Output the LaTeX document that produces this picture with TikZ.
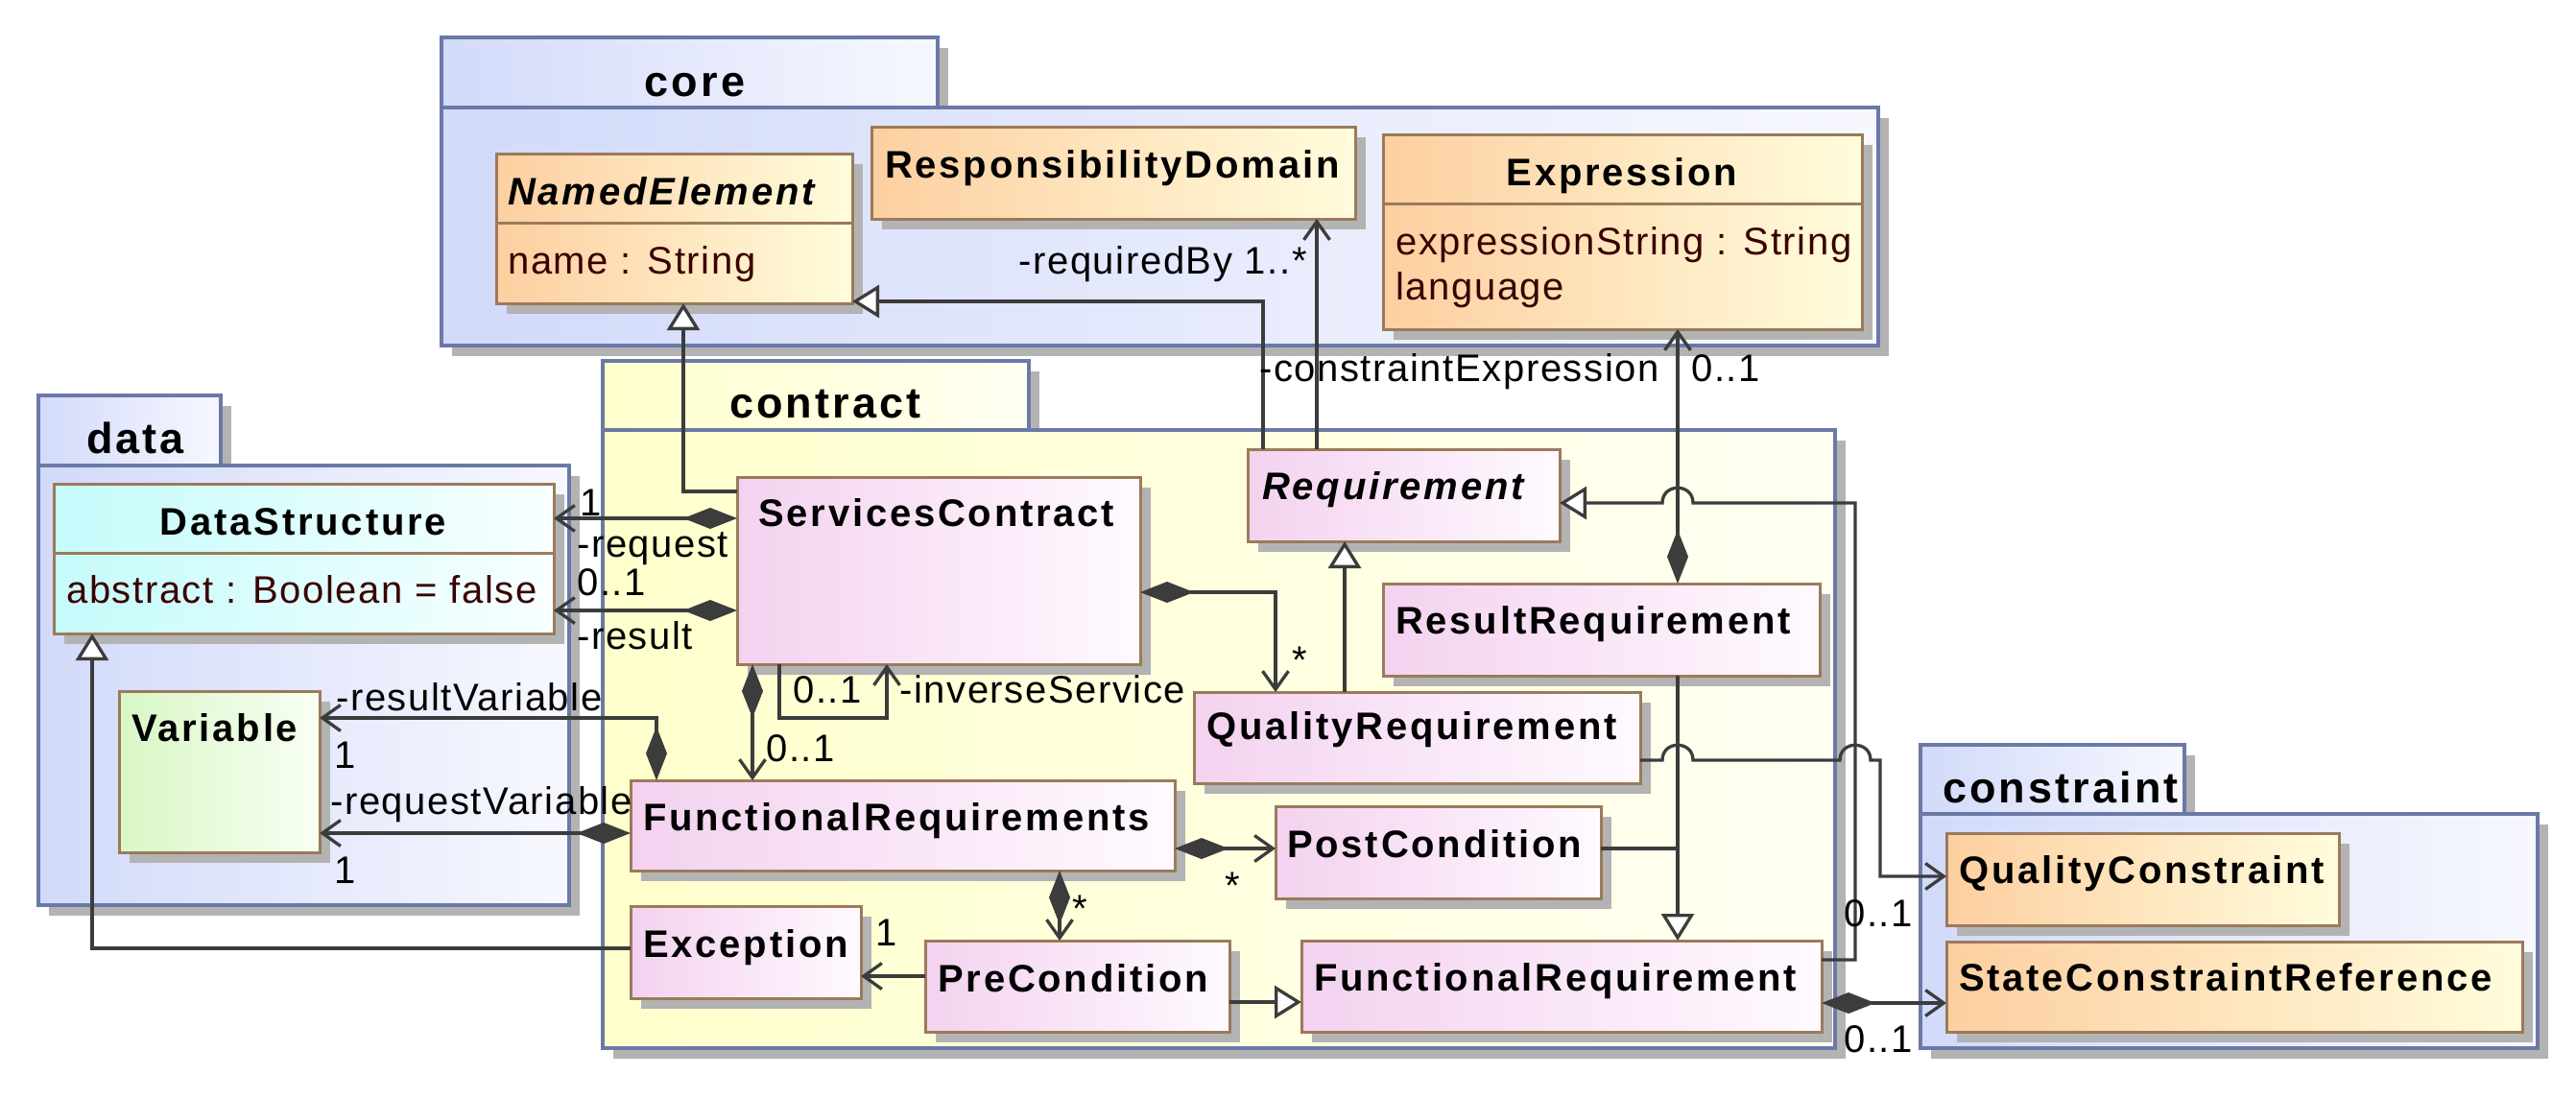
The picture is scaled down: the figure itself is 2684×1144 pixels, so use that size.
\documentclass[tikz,border=0pt]{standalone}
\usepackage{fontspec}
\setmainfont{Liberation Sans}
\newfontfamily\rf{Liberation Sans}[LetterSpace=4]
\newfontfamily\bfam{Liberation Sans}[LetterSpace=7]
\usetikzlibrary{arrows.meta,shadows}
\definecolor{pkgb}{HTML}{6B79A7}
\definecolor{clsb}{HTML}{9B7A5B}
\definecolor{lc}{HTML}{3C3C3C}
\definecolor{shd}{HTML}{B3B3B3}
\definecolor{blueL}{HTML}{D2DAFA}
\definecolor{blueR}{HTML}{F7F8FE}
\definecolor{yelL}{HTML}{FFFFCC}
\definecolor{yelR}{HTML}{FFFFF2}
\definecolor{orL}{HTML}{FDCFA0}
\definecolor{orR}{HTML}{FFFCDC}
\definecolor{piL}{HTML}{F3D2EF}
\definecolor{piR}{HTML}{FFFAFF}
\definecolor{cyL}{HTML}{C5FBFB}
\definecolor{cyR}{HTML}{F8FFFF}
\definecolor{grL}{HTML}{D9F7C6}
\definecolor{grR}{HTML}{F8FFF4}
\definecolor{attrc}{HTML}{3A0000}
\begin{document}
\begin{tikzpicture}[x=1pt,y=-1pt,
  box/.style={inner sep=0pt, outer sep=0pt, anchor=north west,
    general shadow={fill=shd, shadow xshift=11pt, shadow yshift=-11pt}},
  pkgblue/.style={box, draw=pkgb, line width=3.5pt, left color=blueL, right color=blueR},
  pkgyel/.style={box, draw=pkgb, line width=3.5pt, left color=yelL, right color=yelR},
  cls/.style={box, draw=clsb, line width=3pt},
  orcls/.style={cls, left color=orL, right color=orR},
  picls/.style={cls, left color=piL, right color=piR},
  cycls/.style={cls, left color=cyL, right color=cyR},
  grcls/.style={cls, left color=grL, right color=grR},
  sep/.style={draw=clsb, line width=3pt},
  cname/.style={inner sep=0pt, anchor=base west, font={\bfam\bfseries\fontsize{40}{48}\selectfont}},
  aname/.style={cname, font={\bfam\bfseries\itshape\fontsize{40}{48}\selectfont}},
  attr/.style={inner sep=0pt, anchor=base west, text=attrc, font={\rf\fontsize{40}{48}\selectfont}},
  lbl/.style={inner sep=0pt, anchor=base west, font={\rf\fontsize{40}{48}\selectfont}},
  pname/.style={inner sep=0pt, anchor=base, font={\bfam\bfseries\fontsize{45}{54}\selectfont}},
  conn/.style={draw=lc, line width=3.3pt},
  gen/.style={conn, -{Triangle[length=28pt,width=34pt,fill=white]}},
  nav/.style={conn, -{Straight Barb[length=19pt,width=27pt]}},
  comp/.style={conn, {Diamond[length=56pt,width=22pt]}-{Straight Barb[length=19pt,width=27pt]}}
]
\useasboundingbox (0,0) rectangle (2684,1144);

% ---------- packages ----------
\node[pkgblue, minimum width=517pt, minimum height=73pt] (coretab) at (460,39) {};
\node[pkgblue, minimum width=1497pt, minimum height=248pt] (corebody) at (460,112) {};
\node[pname] (corename) at (724,100) {core};

\node[pkgblue, minimum width=190pt, minimum height=73pt] (datatab) at (40,412) {};
\node[pkgblue, minimum width=553pt, minimum height=458pt] (databody) at (40,485) {};
\node[pname] (dataname) at (141,472) {data};

\node[pkgyel, minimum width=444pt, minimum height=72pt] (contab) at (628,376) {};
\node[pkgyel, minimum width=1284pt, minimum height=644pt] (conbody) at (628,448) {};
\node[pname] (conname) at (860,435) {contract};

\node[pkgblue, minimum width=275pt, minimum height=72pt] (cstab) at (2001,776) {};
\node[pkgblue, minimum width=643pt, minimum height=244pt] (csbody) at (2001,848) {};
\node[pname] (csname) at (2147,836) {constraint};

% ---------- classes ----------
\node[orcls, minimum width=371pt, minimum height=156pt] (ne) at (517,160) {};
\draw[sep] (517,232) -- (888,232);
\node[aname] (nename) at (529,213) {NamedElement};
\node[attr] (neattr) at (529,285) {name : String};

\node[orcls, minimum width=504pt, minimum height=96pt] (rd) at (908,132) {};
\node[cname] (rdname) at (922,185) {ResponsibilityDomain};

\node[orcls, minimum width=499pt, minimum height=203pt] (expr) at (1441,140) {};
\draw[sep] (1441,212) -- (1940,212);
\node[cname, anchor=base] (exname) at (1690,193) {Expression};
\node[attr] (exattr1) at (1454,265) {expressionString : String};
\node[attr] (exattr2) at (1454,312) {language};

\node[cycls, minimum width=521pt, minimum height=156pt] (ds) at (56,504) {};
\draw[sep] (56,576) -- (577,576);
\node[cname, anchor=base] (dsname) at (316,557) {DataStructure};
\node[attr] (dsattr) at (69,628) {abstract : Boolean = false};

\node[grcls, minimum width=209pt, minimum height=168pt] (var) at (124,720) {};
\node[cname] (varname) at (137,772) {Variable};

\node[picls, minimum width=420pt, minimum height=195pt] (sc) at (768,497) {};
\node[cname] (scname) at (790,548) {ServicesContract};

\node[picls, minimum width=325pt, minimum height=96pt] (req) at (1300,468) {};
\node[aname] (reqname) at (1315,520) {Requirement};

\node[picls, minimum width=455pt, minimum height=96pt] (rr) at (1441,608) {};
\node[cname] (rrname) at (1454,660) {ResultRequirement};

\node[picls, minimum width=465pt, minimum height=95pt] (qr) at (1244,721) {};
\node[cname] (qrname) at (1257,770) {QualityRequirement};

\node[picls, minimum width=567pt, minimum height=94pt] (fr) at (657,813) {};
\node[cname] (frname) at (670,865) {FunctionalRequirements};

\node[picls, minimum width=339pt, minimum height=96pt] (post) at (1329,840) {};
\node[cname] (postname) at (1341,893) {PostCondition};

\node[picls, minimum width=240pt, minimum height=96pt] (exc) at (657,944) {};
\node[cname] (excname) at (670,997) {Exception};

\node[picls, minimum width=317pt, minimum height=95pt] (pre) at (964,980) {};
\node[cname] (prename) at (977,1033) {PreCondition};

\node[picls, minimum width=542pt, minimum height=95pt] (fureq) at (1356,980) {};
\node[cname] (fureqname) at (1369,1032) {FunctionalRequirement};

\node[orcls, minimum width=409pt, minimum height=96pt] (qc) at (2028,868) {};
\node[cname] (qcname) at (2041,920) {QualityConstraint};

\node[orcls, minimum width=600pt, minimum height=94pt] (scr) at (2028,981) {};
\node[cname] (scrname) at (2041,1032) {StateConstraintReference};

% ---------- connectors ----------
\draw[gen] (sc.west |- 0,512) -- (712,512) -- (712,0 |- ne.south);
\draw[gen] (1316,0 |- req.north) -- (1316,314) -- (ne.east |- 0,314);
\draw[nav] (1372,0 |- req.north) -- (1372,0 |- rd.south);
\draw[comp] (1748,0 |- rr.north) -- (1748,0 |- expr.south);
\draw[comp] (sc.west |- 0,540) -- (ds.east |- 0,540);
\draw[comp] (sc.west |- 0,636) -- (ds.east |- 0,636);
\draw[comp] (sc.east |- 0,617) -- (1329,617) -- (1329,0 |- qr.north);
\draw[comp] (784,0 |- sc.south) -- (784,0 |- fr.north);
\draw[nav] (812,0 |- sc.south) -- (812,748) -- (924,748) -- (924,0 |- sc.south);
\draw[comp] (684,0 |- fr.north) -- (684,748) -- (var.east |- 0,748);
\draw[comp] (fr.west |- 0,868) -- (var.east |- 0,868);
\draw[gen] (1401,0 |- qr.north) -- (1401,0 |- req.south);
\draw[gen] (1748,0 |- rr.south) -- (1748,0 |- fureq.north);
\draw[conn] (post.east |- 0,884) -- (1748,884);
\draw[comp] (fr.east |- 0,884) -- (post.west |- 0,884);
\draw[comp] (1104,0 |- fr.south) -- (1104,0 |- pre.north);
\draw[nav] (pre.west |- 0,1017) -- (exc.east |- 0,1017);
\draw[gen] (pre.east |- 0,1044) -- (fureq.west |- 0,1044);
\draw[gen] (exc.west |- 0,988) -- (96,988) -- (96,0 |- ds.south);
\draw[comp] (fureq.east |- 0,1045) -- (scr.west |- 0,1045);
\draw[gen] (fureq.east |- 0,1000) -- (1933,1000) -- (1933,524) -- (1764,524)
  .. controls (1764,503) and (1732,503) .. (1732,524) -- (req.east |- 0,524);
\draw[nav] (qr.east |- 0,792) -- (1732,792)
  .. controls (1732,771) and (1764,771) .. (1764,792) -- (1917,792)
  .. controls (1917,771) and (1949,771) .. (1949,792) -- (1959,792) -- (1959,913) -- (qc.west |- 0,913);

% ---------- labels ----------
\node[lbl, anchor=base east] (l1) at (1362,285) {-requiredBy 1..*};
\node[lbl, anchor=base east] (l2) at (1729,397) {-constraintExpression};
\node[lbl] (l3) at (1762,397) {0..1};
\node[lbl] (l4) at (604,537) {1};
\node[lbl] (l5) at (601,580) {-request};
\node[lbl] (l6) at (601,620) {0..1};
\node[lbl] (l7) at (601,676) {-result};
\node[lbl] (l8) at (826,732) {0..1};
\node[lbl] (l9) at (937,732) {-inverseService};
\node[lbl] (l10) at (798,793) {0..1};
\node[lbl] (l11) at (1346,701) {*};
\node[lbl] (l12) at (350,740) {-resultVariable};
\node[lbl] (l13) at (348,800) {1};
\node[lbl] (l14) at (344,848) {-requestVariable};
\node[lbl] (l15) at (348,920) {1};
\node[lbl] (l16) at (1276,936) {*};
\node[lbl] (l17) at (1117,960) {*};
\node[lbl] (l18) at (912,985) {1};
\node[lbl] (l19) at (1921,965) {0..1};
\node[lbl] (l20) at (1921,1096) {0..1};
\end{tikzpicture}
\end{document}
